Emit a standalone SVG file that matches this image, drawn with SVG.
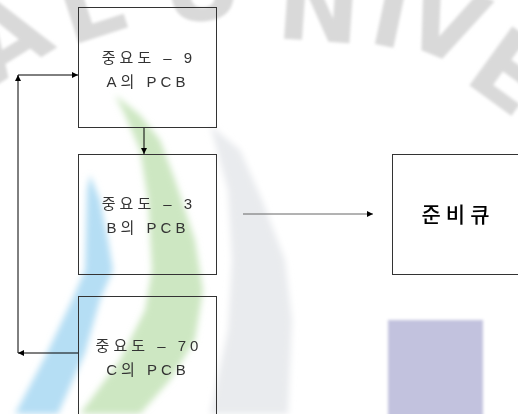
<svg xmlns="http://www.w3.org/2000/svg" width="518" height="414" viewBox="0 0 518 414">
  <style>
    .box { fill: none; stroke: #333; stroke-width: 1; }
    .lbl { font-family: "Liberation Sans", "Noto Sans CJK KR", sans-serif; font-size: 15px; fill: #333; letter-spacing: 4px; text-anchor: middle; dominant-baseline: central; }
    .big { font-family: "Noto Sans CJK KR", "Liberation Sans", sans-serif; font-size: 21px; font-weight: 500; fill: #000; letter-spacing: 5px; text-anchor: middle; dominant-baseline: central; }
    .wm { font-family: "DejaVu Sans", "Liberation Sans", sans-serif; font-size: 100px; font-weight: bold; fill: #d9d9d9; }
    .con { fill: none; stroke: #000; stroke-width: 1; }
  </style>
  <defs>
    <filter id="soft" x="-20%" y="-20%" width="140%" height="140%">
      <feGaussianBlur stdDeviation="3"/>
    </filter>
    <filter id="soft2" x="-20%" y="-20%" width="140%" height="140%">
      <feGaussianBlur stdDeviation="1.5"/>
    </filter>
    <marker id="arr" viewBox="0 0 10 10" refX="10" refY="5" markerWidth="7" markerHeight="6" markerUnits="userSpaceOnUse" orient="auto">
      <path d="M0,0 L10,5 L0,10 z" fill="#000"/>
    </marker>
  </defs>
  <rect width="518" height="414" fill="#fff"/>
  <g id="watermark">
    <path d="M210,125 L240,150 L262,200 L285,260 L292,320 L288,414 L210,414 L228,330 L232,260 L228,190 Z" fill="#e9ebee" filter="url(#soft)"/>
    <path d="M115,95 L140,115 L160,140 L175,180 L195,240 L203,290 L195,340 L170,380 L140,414 L80,414 L120,360 L145,310 L152,270 L148,200 L140,150 L125,115 Z" fill="#cde7c2" filter="url(#soft)"/>
    <path d="M90,175 L100,200 L108,240 L113,270 L100,300 L85,353 L58,414 L15,414 L47,353 L72,300 L85,270 L86,230 L87,190 Z" fill="#b5def4" filter="url(#soft)"/>
    <rect x="388" y="320" width="95" height="100" fill="#c2c2de" filter="url(#soft2)"/>
    <g filter="url(#soft2)">
      <text class="wm" transform="translate(-8,88) rotate(-32)">A</text>
      <text class="wm" transform="translate(70,46) rotate(-18)">L</text>
      <text class="wm" transform="translate(165,24) rotate(-6)">U</text>
      <text class="wm" transform="translate(275,38) rotate(4)">N</text>
      <text class="wm" transform="translate(366,42) rotate(12)">I</text>
      <text class="wm" transform="translate(396,40) rotate(22)">V</text>
      <text class="wm" transform="translate(462,80) rotate(36)">E</text>
    </g>
  </g>
  <g id="connectors">
    <line class="con" x1="144" y1="127" x2="144" y2="154" marker-end="url(#arr)"/>
    <line class="con" x1="78" y1="353" x2="18" y2="353" marker-end="url(#arr)"/>
    <line class="con" x1="18" y1="353" x2="18" y2="75" marker-end="url(#arr)"/>
    <line class="con" x1="18" y1="75" x2="78" y2="75" marker-end="url(#arr)"/>
    <line class="con" x1="243" y1="214" x2="373" y2="214" style="stroke:#666" marker-end="url(#arr)"/>
  </g>
  <g id="nodeA">
    <rect class="box" x="78.5" y="7.5" width="138" height="120"/>
    <text class="lbl" x="149" y="57">중요도 – 9</text>
    <text class="lbl" x="148" y="81">A의 PCB</text>
  </g>
  <g id="nodeB">
    <rect class="box" x="78.5" y="154.5" width="138" height="120"/>
    <text class="lbl" x="149" y="203">중요도 – 3</text>
    <text class="lbl" x="148" y="227">B의 PCB</text>
  </g>
  <g id="nodeC">
    <rect class="box" x="78.5" y="296.5" width="138" height="130"/>
    <text class="lbl" x="149" y="345">중요도 – 70</text>
    <text class="lbl" x="148" y="369">C의 PCB</text>
  </g>
  <g id="readyQueue">
    <rect class="box" x="392.5" y="154.5" width="126" height="120"/>
    <text class="big" x="458" y="213">준비큐</text>
  </g>
</svg>
